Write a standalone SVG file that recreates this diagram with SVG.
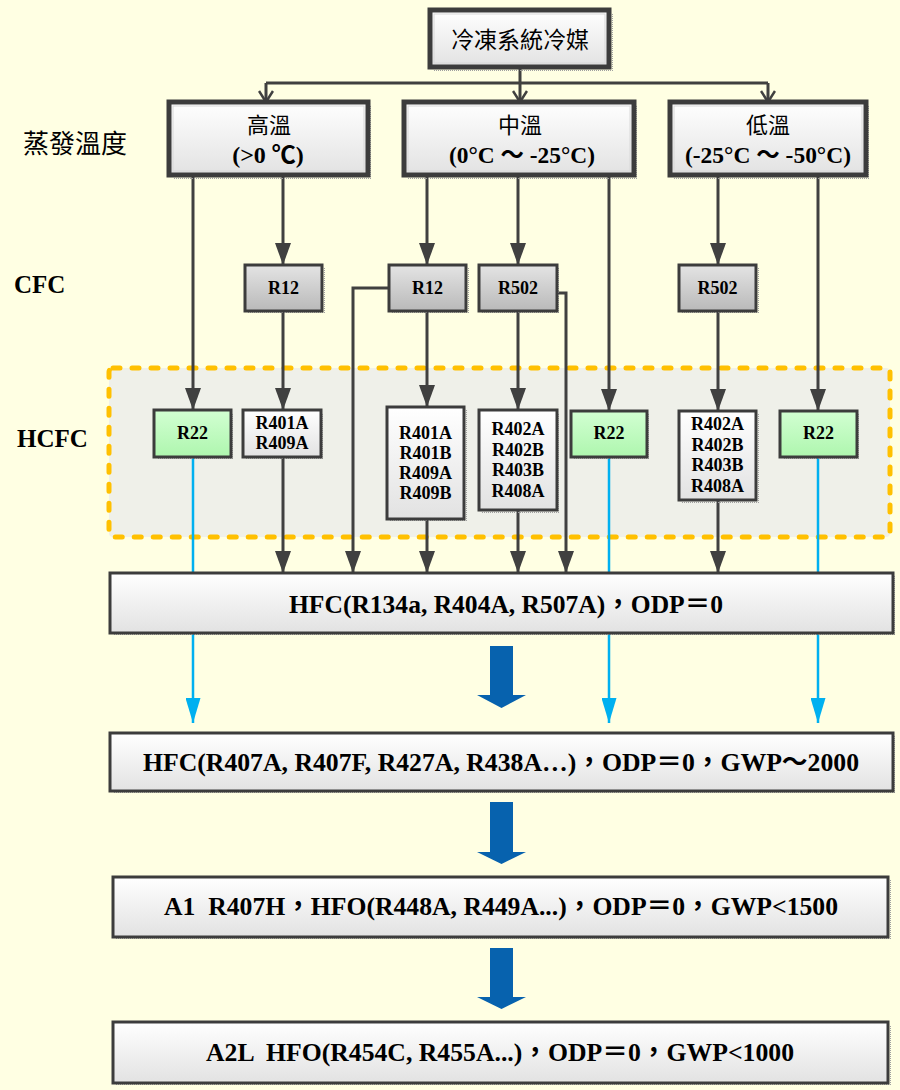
<svg xmlns="http://www.w3.org/2000/svg" width="900" height="1090" viewBox="0 0 900 1090">
<defs>
<style>
.lat{font-family:"Liberation Serif","Times New Roman","Noto Sans CJK TC",serif;font-weight:bold;fill:#000}
.cjk{font-family:"Noto Sans CJK TC","Noto Sans CJK SC",sans-serif;fill:#000}
.sm{font-size:18px;text-anchor:middle}
.big{font-size:26px;text-anchor:middle;white-space:pre}
.frame{stroke:#3c3c3c;stroke-width:5}
.frin{fill:none;stroke:#d8d8d8;stroke-width:1}
.bx{stroke:#3c3c3c;stroke-width:3}
.sh{fill:url(#dots)}
.con{fill:none;stroke:#404040;stroke-width:3}
.blue{fill:none;stroke:#00B0F0;stroke-width:2.5}
.barrow{fill:#0762AE}
</style>
<linearGradient id="gW" x1="0" y1="0" x2="0" y2="1"><stop offset="0" stop-color="#ffffff"/><stop offset="1" stop-color="#e2e2e2"/></linearGradient>
<linearGradient id="gG" x1="0" y1="0" x2="0" y2="1"><stop offset="0" stop-color="#e4e4e4"/><stop offset="1" stop-color="#b9b9b9"/></linearGradient>
<linearGradient id="gN" x1="0" y1="0" x2="0" y2="1"><stop offset="0" stop-color="#d2ffd2"/><stop offset="1" stop-color="#aef6ae"/></linearGradient>
<pattern id="dots" width="2" height="2" patternUnits="userSpaceOnUse"><rect width="1" height="1" fill="#a0a0a0"/></pattern>
<marker id="arr" viewBox="0 0 22 16" refX="22" refY="8" markerWidth="22" markerHeight="16" markerUnits="userSpaceOnUse" orient="auto"><path d="M0,0 L22,8 L0,16 z" fill="#404040"/></marker>
<marker id="chev" viewBox="0 0 14 16" refX="12" refY="8" markerWidth="14" markerHeight="16" markerUnits="userSpaceOnUse" orient="auto"><path d="M1,1 L12,8 L1,15" fill="none" stroke="#404040" stroke-width="2.5"/></marker>
<marker id="barr" viewBox="0 0 25 15" refX="25" refY="7.5" markerWidth="25" markerHeight="15" markerUnits="userSpaceOnUse" orient="auto"><path d="M0,0 L25,7.5 L0,15 z" fill="#00B0F0"/></marker>
</defs>
<rect width="900" height="1090" fill="#FFFFE3"/>

<g id="hcfc-zone">
<rect x="109" y="368" width="781" height="169" rx="4" fill="#EFF0E9" stroke="#FFC000" stroke-width="5" stroke-dasharray="7 12" stroke-linecap="round"/>
</g>

<g id="labels">
<text class="cjk" x="23" y="153" font-size="26">蒸發溫度</text>
<text class="lat" x="14" y="293" font-size="25">CFC</text>
<text class="lat" x="17" y="447" font-size="25">HCFC</text>
</g>

<g id="connectors">
<path class="con" d="M520,67 V83 M266,83 H768" />
<path class="con" marker-end="url(#chev)" d="M520,83 V102"/>
<path class="con" marker-end="url(#chev)" d="M266,83 V102"/>
<path class="con" marker-end="url(#chev)" d="M768,83 V102"/>
<path class="con" marker-end="url(#arr)" d="M193,175 V410"/>
<path class="con" marker-end="url(#arr)" d="M283,175 V265"/>
<path class="con" marker-end="url(#arr)" d="M427,175 V265"/>
<path class="con" marker-end="url(#arr)" d="M518,175 V265"/>
<path class="con" marker-end="url(#arr)" d="M609,175 V411"/>
<path class="con" marker-end="url(#arr)" d="M718,175 V265"/>
<path class="con" marker-end="url(#arr)" d="M818,175 V411"/>
<path class="con" marker-end="url(#arr)" d="M283,311 V410"/>
<path class="con" marker-end="url(#arr)" d="M427,311 V407"/>
<path class="con" marker-end="url(#arr)" d="M518,311 V410"/>
<path class="con" marker-end="url(#arr)" d="M718,311 V411"/>
<path class="con" marker-end="url(#arr)" d="M389,288 H353 V573"/>
<path class="con" marker-end="url(#arr)" d="M557,293 H566 V573"/>
<path class="con" marker-end="url(#arr)" d="M283,457 V573"/>
<path class="con" marker-end="url(#arr)" d="M427,519 V573"/>
<path class="con" marker-end="url(#arr)" d="M518,510 V573"/>
<path class="con" marker-end="url(#arr)" d="M718,500 V573"/>
<path class="blue" marker-end="url(#barr)" d="M193,457 V723"/>
<path class="blue" marker-end="url(#barr)" d="M609,457 V723"/>
<path class="blue" marker-end="url(#barr)" d="M818,457 V723"/>
<polygon class="barrow" points="490,646 513,646 513,695 526,695 501.5,708 477,695 490,695"/>
<polygon class="barrow" points="490,802 513,802 513,852 526,852 501.5,864 477,852 490,852"/>
<polygon class="barrow" points="490,948 513,948 513,997 526,997 501.5,1009 477,997 490,997"/>
</g>

<g id="root">
<rect class="sh" x="434" y="14" width="179" height="57"/>
<rect class="frame" x="430" y="10" width="179" height="57" fill="url(#gW)"/>
<rect class="frin" x="434" y="14" width="171" height="49"/>
<text class="cjk" x="520" y="48" font-size="23" text-anchor="middle">冷凍系統冷媒</text>
</g>

<g id="high">
<rect class="sh" x="173" y="106" width="199" height="73"/>
<rect class="frame" x="169" y="102" width="199" height="73" fill="url(#gW)"/>
<rect class="frin" x="173" y="106" width="191" height="65"/>
<text class="cjk" x="269" y="133" font-size="22" text-anchor="middle">高溫</text>
<text class="lat" x="268" y="163" font-size="24" text-anchor="middle">(&gt;0 ℃)</text>
</g>
<g id="mid">
<rect class="sh" x="408" y="106" width="230" height="73"/>
<rect class="frame" x="404" y="102" width="230" height="73" fill="url(#gW)"/>
<rect class="frin" x="408" y="106" width="222" height="65"/>
<text class="cjk" x="520" y="133" font-size="22" text-anchor="middle">中溫</text>
<text class="lat" x="522" y="163" font-size="24" text-anchor="middle" textLength="146" lengthAdjust="spacingAndGlyphs">(0°C ～ -25°C)</text>
</g>
<g id="low">
<rect class="sh" x="674" y="106" width="196" height="73"/>
<rect class="frame" x="670" y="102" width="196" height="73" fill="url(#gW)"/>
<rect class="frin" x="674" y="106" width="188" height="65"/>
<text class="cjk" x="768" y="133" font-size="22" text-anchor="middle">低溫</text>
<text class="lat" x="768" y="163" font-size="24" text-anchor="middle" textLength="166" lengthAdjust="spacingAndGlyphs">(-25°C ～ -50°C)</text>
</g>

<g id="cfc-r12-a">
<rect class="sh" x="248" y="268" width="77" height="46"/>
<rect class="bx" x="245" y="265" width="77" height="46" fill="url(#gG)"/>
<text class="lat sm" x="283.5" y="294">R12</text>
</g>
<g id="cfc-r12-b">
<rect class="sh" x="392" y="268" width="77" height="46"/>
<rect class="bx" x="389" y="265" width="77" height="46" fill="url(#gG)"/>
<text class="lat sm" x="427.5" y="294">R12</text>
</g>
<g id="cfc-r502-a">
<rect class="sh" x="482" y="268" width="78" height="46"/>
<rect class="bx" x="479" y="265" width="78" height="46" fill="url(#gG)"/>
<text class="lat sm" x="518" y="294">R502</text>
</g>
<g id="cfc-r502-b">
<rect class="sh" x="682" y="268" width="77" height="46"/>
<rect class="bx" x="679" y="265" width="77" height="46" fill="url(#gG)"/>
<text class="lat sm" x="717.5" y="294">R502</text>
</g>

<g id="r22-a">
<rect class="sh" x="157" y="413" width="77" height="47"/>
<rect class="bx" x="154" y="410" width="77" height="47" fill="url(#gN)"/>
<text class="lat sm" x="192.5" y="439">R22</text>
</g>
<g id="r401a-r409a">
<rect class="sh" x="246" y="413" width="78" height="47"/>
<rect class="bx" x="243" y="410" width="78" height="47" fill="url(#gW)"/>
<text class="lat sm" x="282" y="429">R401A</text>
<text class="lat sm" x="282" y="449">R409A</text>
</g>
<g id="r401-group">
<rect class="sh" x="390" y="410" width="77" height="112"/>
<rect class="bx" x="387" y="407" width="77" height="112" fill="url(#gW)"/>
<text class="lat sm" x="425.5" y="439">R401A</text>
<text class="lat sm" x="425.5" y="459">R401B</text>
<text class="lat sm" x="425.5" y="479">R409A</text>
<text class="lat sm" x="425.5" y="499">R409B</text>
</g>
<g id="r402-group-a">
<rect class="sh" x="482" y="413" width="78" height="100"/>
<rect class="bx" x="479" y="410" width="78" height="100" fill="url(#gW)"/>
<text class="lat sm" x="518" y="435">R402A</text>
<text class="lat sm" x="518" y="456">R402B</text>
<text class="lat sm" x="518" y="476">R403B</text>
<text class="lat sm" x="518" y="497">R408A</text>
</g>
<g id="r22-b">
<rect class="sh" x="574" y="414" width="76" height="46"/>
<rect class="bx" x="571" y="411" width="76" height="46" fill="url(#gN)"/>
<text class="lat sm" x="609" y="439">R22</text>
</g>
<g id="r402-group-b">
<rect class="sh" x="682" y="414" width="77" height="89"/>
<rect class="bx" x="679" y="411" width="77" height="89" fill="url(#gW)"/>
<text class="lat sm" x="717.5" y="430">R402A</text>
<text class="lat sm" x="717.5" y="451">R402B</text>
<text class="lat sm" x="717.5" y="471">R403B</text>
<text class="lat sm" x="717.5" y="492">R408A</text>
</g>
<g id="r22-c">
<rect class="sh" x="783" y="414" width="77" height="46"/>
<rect class="bx" x="780" y="411" width="77" height="46" fill="url(#gN)"/>
<text class="lat sm" x="818.5" y="439">R22</text>
</g>

<g id="hfc1">
<rect class="sh" x="113" y="576" width="783" height="60"/>
<rect class="bx" x="110" y="573" width="783" height="60" fill="url(#gW)"/>
<text class="lat big" x="506" y="613" textLength="434" lengthAdjust="spacingAndGlyphs">HFC(R134a, R404A, R507A)，ODP＝0</text>
</g>
<g id="hfc2">
<rect class="sh" x="113" y="736" width="783" height="58"/>
<rect class="bx" x="110" y="733" width="783" height="58" fill="url(#gW)"/>
<text class="lat big" x="501" y="771" textLength="716" lengthAdjust="spacingAndGlyphs">HFC(R407A, R407F, R427A, R438A…)，ODP＝0，GWP～2000</text>
</g>
<g id="a1">
<rect class="sh" x="116" y="880" width="775" height="60"/>
<rect class="bx" x="113" y="877" width="775" height="60" fill="url(#gW)"/>
<text class="lat big" x="501" y="915" textLength="674" lengthAdjust="spacingAndGlyphs" xml:space="preserve">A1  R407H，HFO(R448A, R449A...)，ODP＝0，GWP&lt;1500</text>
</g>
<g id="a2l">
<rect class="sh" x="116" y="1025" width="775" height="61"/>
<rect class="bx" x="113" y="1022" width="775" height="61" fill="url(#gW)"/>
<text class="lat big" x="500" y="1061" textLength="588" lengthAdjust="spacingAndGlyphs" xml:space="preserve">A2L  HFO(R454C, R455A...)，ODP＝0，GWP&lt;1000</text>
</g>
</svg>
